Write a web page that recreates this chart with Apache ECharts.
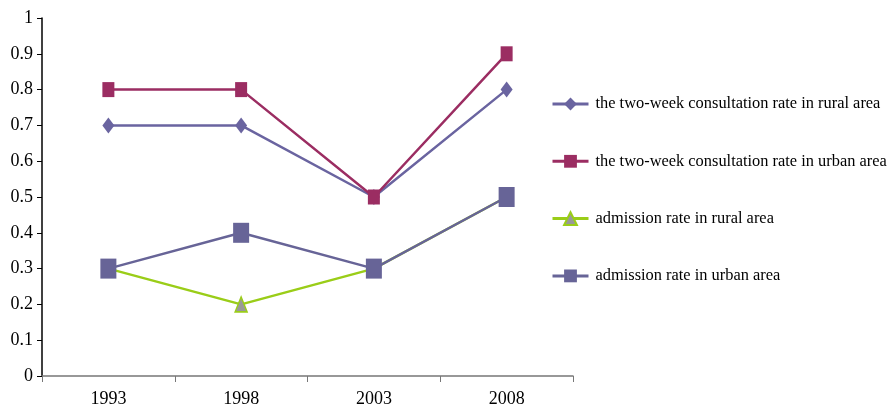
<!DOCTYPE html>
<html>
<head>
<meta charset="utf-8">
<script src="https://cdn.jsdelivr.net/npm/echarts@6/dist/echarts.min.js"></script>
<style>html,body{margin:0;padding:0;background:#fff}#c{width:896px;height:405px}</style>
</head>
<body>
<div id="c"></div>
<script>
var categories = ['1993', '1998', '2003', '2008'];
var ruralConsult = [0.7, 0.7, 0.5, 0.8];
var urbanConsult = [0.8, 0.8, 0.5, 0.9];
var ruralAdmission = [0.3, 0.2, 0.3, 0.5];
var urbanAdmission = [0.3, 0.4, 0.3, 0.5];
var names = [
  'the two-week consultation rate in rural area',
  'the two-week consultation rate in urban area',
  'admission rate in rural area',
  'admission rate in urban area'
];
var font = 'Liberation Serif';
var chart = echarts.init(document.getElementById('c'));
chart.setOption({
  animation: false,
  textStyle: { fontFamily: font },
  grid: { left: 42, right: 323, top: 18, bottom: 29, containLabel: false, outerBoundsMode: 'none' },
  legend: {
    orient: 'vertical', left: 546, top: 91, padding: 5,
    itemWidth: 36, itemHeight: 16, itemGap: 41.3,
    lineStyle: { width: 3 },
    textStyle: { fontFamily: font, fontSize: 16.4, color: '#000', padding: [0, 0, 0, 2] },
    data: names
  },
  xAxis: {
    type: 'category', data: categories, boundaryGap: true,
    axisLine: { lineStyle: { color: '#777', width: 1.5 } },
    axisTick: { show: true, length: 6, lineStyle: { color: '#777' } },
    axisLabel: { color: '#000', fontSize: 18, fontFamily: font, margin: 14 },
    splitLine: { show: false }
  },
  yAxis: {
    type: 'value', min: 0, max: 1, interval: 0.1,
    axisLine: { show: true, lineStyle: { color: '#000', width: 1.5 } },
    axisTick: { show: true, length: 5, lineStyle: { color: '#000' } },
    axisLabel: { color: '#000', fontSize: 18, fontFamily: font, margin: 9 },
    splitLine: { show: false }
  },
  series: [
    { name: names[0], type: 'line', data: ruralConsult, symbol: 'diamond', symbolSize: [12, 16],
      lineStyle: { color: '#6A64A0', width: 2.5 }, itemStyle: { color: '#6A64A0' } },
    { name: names[1], type: 'line', data: urbanConsult, symbol: 'rect', symbolSize: [12, 15],
      lineStyle: { color: '#9B2D62', width: 2.5 }, itemStyle: { color: '#9B2D62' } },
    { name: names[2], type: 'line', data: ruralAdmission, symbol: 'triangle', symbolSize: [12, 15],
      lineStyle: { color: '#9ACD18', width: 2.5 }, itemStyle: { color: '#999', borderColor: '#9ACD18', borderWidth: 1.5 } },
    { name: names[3], type: 'line', data: urbanAdmission, symbol: 'rect', symbolSize: [16, 20],
      lineStyle: { color: '#676497', width: 2.5 }, itemStyle: { color: '#676497' } }
  ]
});
</script>
</body>
</html>
